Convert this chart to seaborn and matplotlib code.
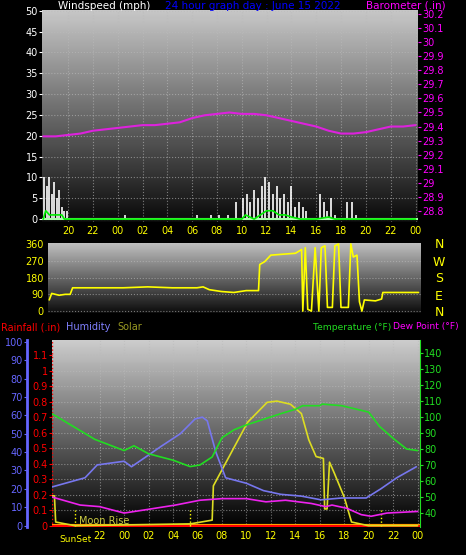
import numpy as np
import pandas as pd
import matplotlib
matplotlib.use("Agg")
import matplotlib.pyplot as plt
import seaborn as sns

W, H = 466, 555

# hours measured from midnight of the day before (24 = 00, 48 = next 00)
baro_t = [18, 19, 20, 21, 22, 23, 24, 25, 26, 27, 28, 29, 30, 31, 32, 33, 34, 35, 36, 37, 38, 39, 40, 41, 42, 43, 44, 45, 46, 47, 48]
baro_v = [29.33, 29.33, 29.34, 29.35, 29.37, 29.38, 29.39, 29.40, 29.41, 29.41, 29.42, 29.43, 29.46, 29.48, 29.49, 29.50,
          29.49, 29.49, 29.48, 29.46, 29.44, 29.42, 29.40, 29.37, 29.35, 29.35, 29.36, 29.38, 29.40, 29.40, 29.41]
gust_t = [18.1, 18.3, 18.5, 18.7, 18.9, 19.1, 19.3, 19.5, 19.7, 19.9, 24.6, 30.4, 31.5, 32.2, 32.9, 33.5, 34.1, 34.4, 34.7,
          35.0, 35.3, 35.6, 35.9, 36.2, 36.5, 36.8, 37.1, 37.4, 37.7, 38.0, 38.3, 38.6, 38.9, 39.2, 40.3, 40.6, 40.9, 41.2,
          41.5, 42.5, 42.9, 43.2]
gust_v = [10, 8, 10, 6, 9, 5, 7, 3, 2, 2, 1, 1, 1, 1, 1, 4, 5, 6, 4, 7, 5, 8, 10, 9, 6, 8, 5, 6, 4, 8, 3, 4, 3, 2, 6, 4, 2, 5,
          1, 4, 4, 1]
avg_t = [18, 18.2, 18.5, 19, 19.5, 19.7, 34, 34.3, 35, 35.5, 36, 36.5, 37, 37.5, 38, 38.7, 40, 41, 41.5, 48]
avg_v = [0, 2, 1, 1, 1, 0, 0, 1, 0, 1, 2, 2, 1, 1, 0.5, 0, 0, 0.5, 0, 0]

dir_t = [18, 18.2, 18.8, 19.3, 19.7, 19.9, 24, 26, 28, 30, 30.5, 31, 32, 33, 34, 35, 35.1, 35.5, 36, 37, 38, 38.5, 38.6,
         38.8, 39, 39.3, 39.6, 39.9, 40.1, 40.4, 40.6, 41.0, 41.2, 41.5, 41.7, 42.3, 42.5, 42.7, 43.0, 43.2, 43.4, 43.6,
         44.5, 45, 45.1, 46, 48]
dir_v = [60, 95, 85, 90, 90, 125, 125, 130, 125, 125, 130, 115, 105, 100, 110, 110, 250, 265, 300, 305, 310, 330, 0, 340,
         10, 0, 340, 0, 340, 350, 20, 20, 350, 360, 20, 20, 360, 290, 300, 50, 0, 60, 55, 65, 100, 100, 100]

temp_t = [18.1, 21.6, 24, 24.8, 26, 28, 29.4, 30.2, 31.2, 32, 33, 34, 35.2, 36.8, 38.1, 38.6, 40, 40.2, 41.8, 44, 44.9,
          46.1, 47.1, 48]
temp_v = [102, 86, 79, 82, 77, 73, 69, 70, 75, 87, 92, 95, 98, 102, 105, 107, 107, 108, 107, 103, 94, 86, 80, 79]
hum_t = [18.1, 20.8, 21.8, 24, 24.6, 25.7, 27, 28.6, 29.8, 30.4, 30.8, 31.5, 32.3, 34, 35.4, 36.8, 38.5, 40.1, 41.8,
         43.8, 45, 46.3, 47.9]
hum_v = [21, 26, 33, 35, 32, 37, 43, 50, 58, 59, 57, 40, 26, 23, 19, 17, 16, 14, 15, 15, 20, 26, 32]
dew_t = [18.1, 20.4, 22, 24, 25.7, 28.2, 30.2, 32, 34, 35.6, 37.2, 39.3, 40.5, 41, 42.2, 43.4, 44.2, 45.5, 48]
dew_v = [50, 45, 44, 40, 42, 45, 48, 49, 49, 47, 48, 46, 44, 45, 43, 39, 38, 40, 41]
sol_t = [18.1, 18.3, 18.4, 20, 29.4, 31.2, 31.3, 33, 34.1, 35.7, 36.5, 37.6, 38.5, 39.1, 39.7, 40.3, 40.4, 40.6, 40.8,
         41.2, 42, 42.6, 44, 48]
sol_v = [240, 240, 30, 0, 15, 45, 320, 630, 830, 990, 1000, 975, 900, 690, 555, 540, 135, 135, 510, 420, 230, 30, 0, 0]

hour_ticks = list(range(20, 49, 2))
hour_labels = [f"{h % 24:02d}" for h in hour_ticks]

sns.set_style("dark")
plt.rcParams["font.family"] = ["DejaVu Sans"]
fig = plt.figure(figsize=(W / 100, H / 100), dpi=100, facecolor="black")


def pax(x0, y0, x1, y1):
    return fig.add_axes([x0 / W, 1 - y1 / H, (x1 - x0) / W, (y1 - y0) / H])


def gradient(ax, top, bottom):
    g = np.linspace(top, bottom, 100).reshape(-1, 1)
    ax.imshow(g, cmap="gray", vmin=0, vmax=1, aspect="auto", extent=[0, 1, 0, 1],
              transform=ax.transAxes, zorder=0)


def style(ax, color):
    ax.set_facecolor("black")
    for s in ax.spines.values():
        s.set_visible(False)
    ax.tick_params(colors=color, labelsize=7, length=2, pad=1)
    ax.grid(True, color="#bbbbbb", ls=":", lw=0.8, alpha=0.6)
    ax.set_xlabel("")
    ax.set_ylabel("")


# ---- top: wind + barometer
ax1 = pax(42, 10, 418, 222)
gradient(ax1, 0.78, 0.04)
ax1.vlines(gust_t, 0, gust_v, color="white", lw=1.2, zorder=2)
ax1.axhline(0, color="#aaffaa", lw=1.5, zorder=2)
sns.lineplot(x=avg_t, y=avg_v, ax=ax1, color="#00ee00", lw=1.2, zorder=3)
ax1.set_xlim(17.9, 48.2)
ax1.set_ylim(-0.7, 50.2)
ax1.set_yticks(range(0, 51, 5))
ax1.set_xticks(hour_ticks, hour_labels)
style(ax1, "white")
ax1.tick_params(axis="x", colors="yellow")
ax1b = ax1.twinx()
sns.lineplot(x=baro_t, y=baro_v, ax=ax1b, color="#dd22dd", lw=1.5)
ax1b.set_ylim(28.72, 30.23)
ax1b.set_yticks(np.round(np.arange(28.8, 30.21, 0.1), 1))
ax1b.set_yticklabels([f"{v:g}" for v in np.arange(28.8, 30.21, 0.1).round(1)])
style(ax1b, "#ff00ff")
ax1b.grid(False)
fig.text(104 / W, 1 - 6 / H, "Windspeed (mph)", color="white", fontsize=7.5, va="center", ha="center")
fig.text(253 / W, 1 - 6 / H, "24 hour graph day : June 15 2022", color="blue", fontsize=7.5, va="center", ha="center")
fig.text(406 / W, 1 - 6 / H, "Barometer (.in)", color="#ff00ff", fontsize=7.5, va="center", ha="center")

# ---- middle: wind direction
ax2 = pax(48, 243, 421, 313)
gradient(ax2, 0.75, 0.05)
sns.lineplot(x=dir_t, y=dir_v, ax=ax2, color="yellow", lw=1.2, zorder=3)
ax2.set_xlim(17.9, 48.2)
ax2.set_ylim(-10, 365)
ax2.set_yticks([0, 90, 180, 270, 360])
ax2.set_xticks([])
style(ax2, "yellow")
for i, c in enumerate("NWSEN"):
    fig.text(439 / W, 1 - (245 + i * 17) / H, c, color="yellow", fontsize=9, ha="center", va="center")

# ---- bottom: rain, humidity, solar, temperature, dew point
fig.text(1 / W, 1 - 327 / H, "Rainfall (.in)", color="red", fontsize=7, va="center")
fig.text(66 / W, 1 - 327 / H, "Humidity", color="#8080ff", fontsize=7, va="center")
fig.text(117 / W, 1 - 327 / H, "Solar", color="#999922", fontsize=7, va="center")
fig.text(313 / W, 1 - 327 / H, "Temperature (°F)", color="#22dd22", fontsize=6.6, va="center")
fig.text(393 / W, 1 - 327 / H, "Dew Point (°F)", color="#ff00ff", fontsize=6.6, va="center")

ax3 = pax(52, 340, 420, 527)
gradient(ax3, 0.8, 0.0)
ax3.set_xlim(18.1, 48.2)
ax3.set_ylim(-0.008, 1.2)
ax3.set_yticks(np.round(np.arange(0, 1.11, 0.1), 1))
ax3.set_yticklabels([f"{v:g}" for v in np.arange(0, 1.11, 0.1).round(1)])
ax3.set_xticks(hour_ticks[1:], hour_labels[1:])
style(ax3, "red")
ax3.tick_params(axis="x", colors="yellow")
ax3.axhline(0, color="orange", lw=3, zorder=2)
ax3.axhline(0, color="red", lw=1.5, zorder=2)
ax3.axvline(18.1, color="red", ls=":", lw=1)
for t in [20, 29.4, 45]:
    ax3.plot([t, t], [0, 0.1], color="yellow", ls=":", lw=1)
ax3.text(20.3, 0.01, "Moon Rise", color="#cccc44", fontsize=7)
ax3.text(20, -0.06, "SunSet", color="yellow", fontsize=6.5, ha="center", va="top")

ax_sol = ax3.twinx()
sns.lineplot(x=sol_t, y=sol_v, ax=ax_sol, color="#dddd22", lw=1.2)
ax_sol.set_ylim(-10, 1490)
ax_sol.axis("off")

ax_hum = ax3.twinx()
sns.lineplot(x=hum_t, y=hum_v, ax=ax_hum, color="#7777ee", lw=1.2)
ax_hum.set_ylim(-0.8, 101)
ax_hum.set_yticks(range(0, 101, 10))
ax_hum.yaxis.set_ticks_position("left")
ax_hum.spines["left"].set_position(("outward", 18))
style(ax_hum, "#6666ff")
ax_hum.spines["left"].set_visible(True)
ax_hum.spines["left"].set_color("#6666ff")
ax_hum.spines["left"].set_linewidth(2)
ax_hum.grid(False)

ax_t = ax3.twinx()
sns.lineplot(x=temp_t, y=temp_v, ax=ax_t, color="#22dd22", lw=1.2)
sns.lineplot(x=dew_t, y=dew_v, ax=ax_t, color="#ee22ee", lw=1.2)
ax_t.set_ylim(31.3, 148)
ax_t.set_yticks(range(40, 141, 10))
style(ax_t, "#22dd22")
ax_t.spines["right"].set_visible(True)
ax_t.spines["right"].set_color("#22dd22")
ax_t.grid(False)

fig.savefig("out.png", dpi=100, facecolor="black")
